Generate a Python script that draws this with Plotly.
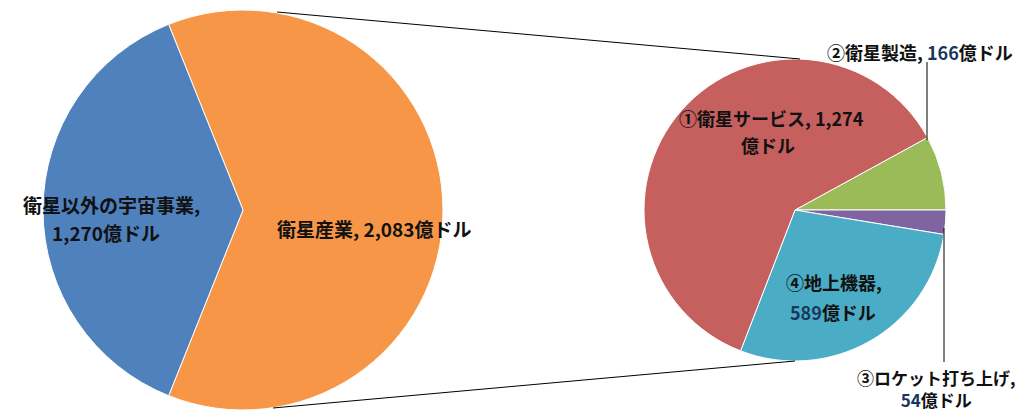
import plotly.graph_objects as go

W, H = 1026, 411

# Data
main_labels = ["衛星産業", "衛星以外の宇宙事業"]
main_values = [2083, 1270]
main_colors = ["#F79646", "#4F81BD"]

sub_labels = ["②衛星製造", "③ロケット打ち上げ", "④地上機器", "①衛星サービス"]
sub_values = [166, 54, 589, 1274]
sub_colors = ["#9BBB59", "#8064A2", "#4BACC6", "#C5605E"]

FONT = "Noto Sans CJK JP"


def px_dom(cx, cy, r):
    return dict(x=[(cx - r) / W, (cx + r) / W], y=[1 - (cy + r) / H, 1 - (cy - r) / H])


main_total = sum(main_values)
sub_total = sum(sub_values)
main_rot = 90 - 360 * main_values[0] / main_total / 2
sub_rot = 90 - 360 * sub_values[0] / sub_total

fig = go.Figure()
fig.add_trace(go.Pie(
    labels=main_labels, values=main_values, sort=False, direction="clockwise",
    rotation=main_rot, textinfo="none", showlegend=False,
    marker=dict(colors=main_colors, line=dict(color="white", width=1)),
    domain=px_dom(243, 210, 200),
))
fig.add_trace(go.Pie(
    labels=sub_labels, values=sub_values, sort=False, direction="clockwise",
    rotation=sub_rot, textinfo="none", showlegend=False,
    marker=dict(colors=sub_colors, line=dict(color="white", width=1)),
    domain=px_dom(795, 210, 151),
))


def P(x, y):
    return x / W, 1 - y / H


shapes = []
for (x0, y0, x1, y1) in [(277, 12, 800, 59), (273, 408, 795, 361),
                         (927, 62, 927, 140), (944, 228, 944, 362)]:
    a, b = P(x0, y0)
    c, d = P(x1, y1)
    shapes.append(dict(type="line", xref="paper", yref="paper", x0=a, y0=b, x1=c, y1=d,
                       line=dict(color="black", width=1)))

NAVY = "#17375E"
ann_specs = [
    (111, 205, "<b>衛星以外の宇宙事業,</b>", 19),
    (106, 232, "<b>1,270億ドル</b>", 19),
    (374, 228, "<b>衛星産業, 2,083億ドル</b>", 19),
    (771, 118, "<b>①衛星サービス, 1,274</b>", 18),
    (768, 145, "<b>億ドル</b>", 18),
    (920, 52, f"<b>②衛星製造, <span style='color:{NAVY}'>166</span>億ドル</b>", 18),
    (834, 282, "<b>④地上機器,</b>", 18),
    (833, 312, f"<b><span style='color:{NAVY}'>589</span>億ドル</b>", 18),
    (936, 388, f"<b>③ロケット打ち上げ,</b><br><b><span style='color:{NAVY}'>54</span>億ドル</b>", 17),
]
annotations = []
for x, y, t, s in ann_specs:
    a, b = P(x, y)
    annotations.append(dict(x=a, y=b, xref="paper", yref="paper", text=t, showarrow=False,
                            xanchor="center", yanchor="middle", align="center",
                            font=dict(family=FONT, size=s, color="#111111")))

fig.update_layout(
    width=W, height=H, margin=dict(l=0, r=0, t=0, b=0),
    paper_bgcolor="white", plot_bgcolor="white",
    shapes=shapes, annotations=annotations,
    font=dict(family=FONT),
)
fig.write_html("out.html", config={"displayModeBar": False},
               post_script="document.body.style.margin='0';document.body.style.overflow='hidden';")
